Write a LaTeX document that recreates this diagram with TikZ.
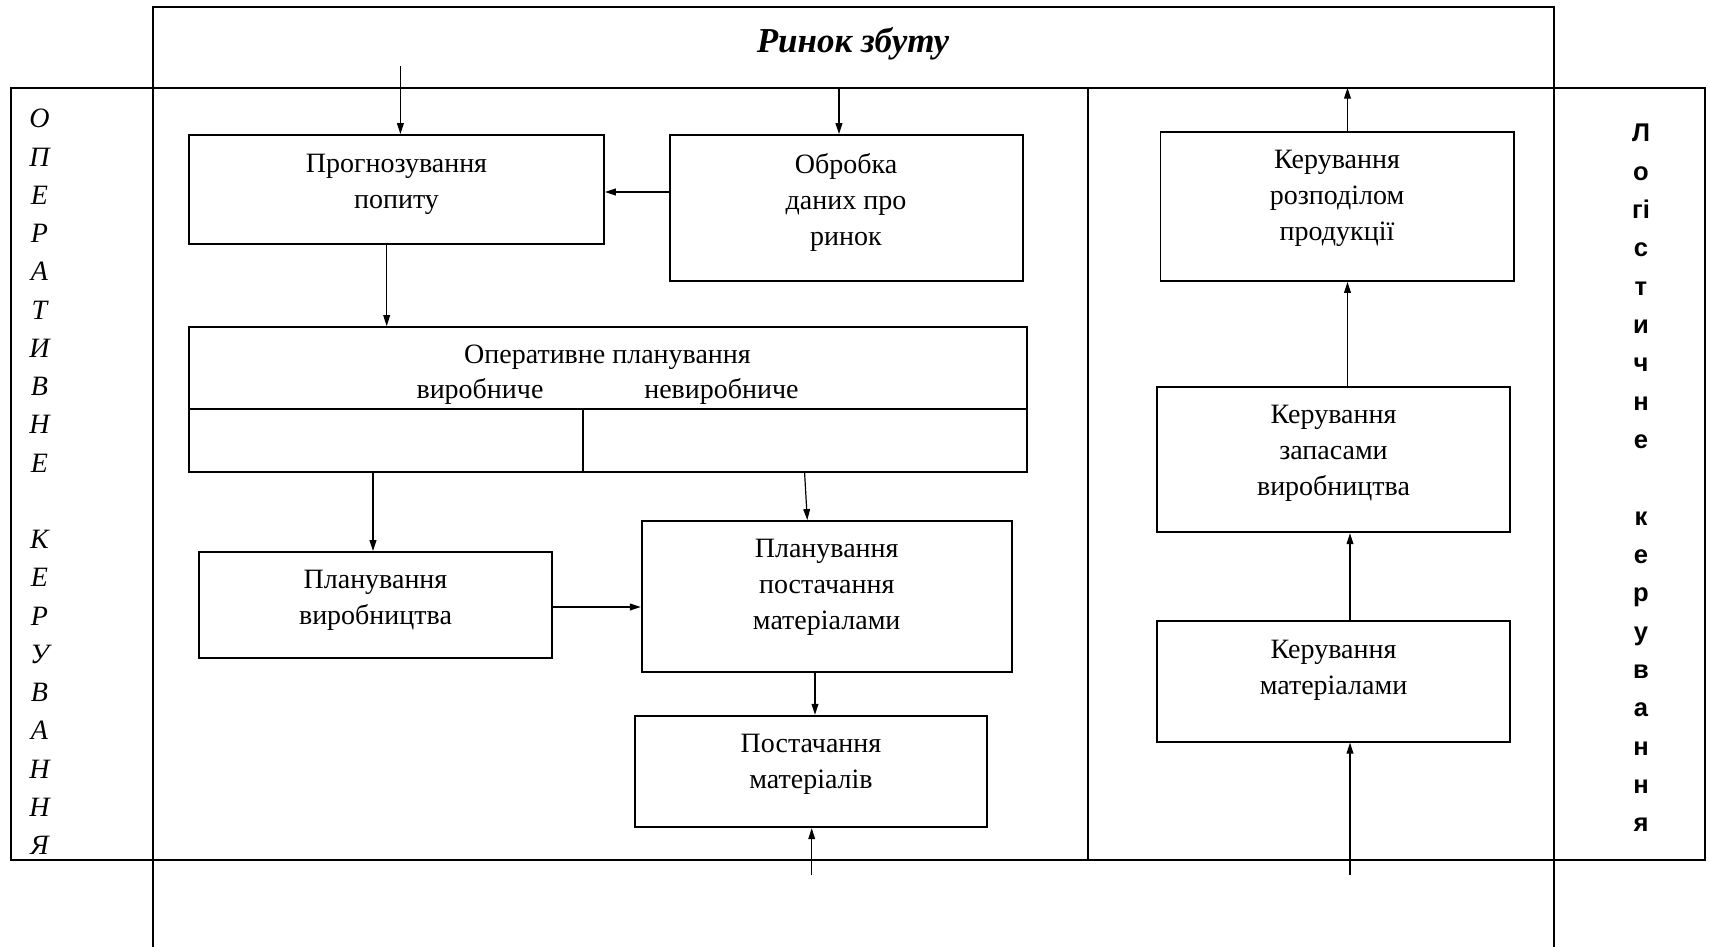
\documentclass[tikz,border=0pt]{standalone}
\usepackage{fontspec}
\setmainfont{Liberation Serif}
\newfontfamily\lsans{Liberation Sans}
\usetikzlibrary{arrows.meta,fit}
\begin{document}
\begin{tikzpicture}[x=0.5pt,y=-0.5pt,
  box/.style={draw, line width=0.9pt, inner sep=0pt},
  txt/.style={align=center, font=\fontsize{14}{18}\selectfont, inner sep=0pt},
  arr/.style={-{Triangle[length=5.5pt,width=3.4pt]}, line width=0.6pt},
  frame/.style={line width=1pt}]
\useasboundingbox (0,0) rectangle (1710,947);
% frame
\coordinate (F1) at (152.5,7.3);
\coordinate (F2) at (1553.7,7.3);
\coordinate (F3) at (152.5,947);
\coordinate (F4) at (1553.7,947);
\draw[frame] (F3) -- (F1) -- (F2) -- (F4);
\coordinate (B1) at (11,87.7);
\coordinate (B2) at (1705,860);
\draw[frame] (B1) rectangle (B2);
\coordinate (D1) at (1088,87.7);
\coordinate (D2) at (1088,860);
\draw[frame] (D1) -- (D2);
\node[font=\fontsize{17.5}{20}\selectfont\bfseries\itshape] (title) at (853,44) {Ринок збуту};
% side texts
\node[align=center, inner sep=0pt, font=\fontsize{14}{19.13}\selectfont\itshape] (lt) at (39.5,482) {О\\П\\Е\\Р\\А\\Т\\И\\В\\Н\\Е\\~\\К\\Е\\Р\\У\\В\\А\\Н\\Н\\Я};
\node[align=center, inner sep=0pt, font=\fontsize{12.8}{19.17}\selectfont\lsans\bfseries] (rt) at (1641,478) {Л\\о\\гі\\с\\т\\и\\ч\\н\\е\\~\\к\\е\\р\\у\\в\\а\\н\\н\\я};
% boxes
\node[box, fit={(189,135) (604,244)}] (p1) {};
\node[box, fit={(670,135) (1023,281)}] (p2) {};
\node[box, fit={(189,327) (1026.6,472)}] (p3) {};
\node[box, fit={(199,552) (552,658)}] (p4) {};
\node[box, fit={(641.7,521) (1011.8,672.3)}] (p5) {};
\node[box, fit={(635,715.7) (987,827.3)}] (p6) {};
\node[box, fit={(1160.4,131.7) (1513.6,281)}] (p7) {};
\node[box, fit={(1157,386.7) (1510,532.3)}] (p8) {};
\node[box, fit={(1157,621) (1510,741.7)}] (p9) {};
% inner lines of big box
\coordinate (y409) at (0,409);
\coordinate (x583) at (583,0);
\draw[line width=0.9pt] (p3.west |- y409) -- (p3.east |- y409);
\draw[line width=0.9pt] (x583 |- y409) -- (p3.south -| x583);
% texts
\node[txt] (t1) at (396.5,184) {Прогнозування\\попиту};
\node[txt] (t2) at (846,202) {Обробка\\даних про\\ринок};
\node[txt] (t3) at (607.5,357.5) {Оперативне планування};
\node[txt] (t3a) at (480,391.5) {виробниче};
\node[txt] (t3b) at (721.5,391.5) {невиробниче};
\node[txt] (t4) at (375.5,600.5) {Планування\\виробництва};
\node[txt] (t5) at (826.7,587.5) {Планування\\постачання\\матеріалами};
\node[txt] (t6) at (811,764.5) {Постачання\\матеріалів};
\node[txt] (t7) at (1337,198) {Керування\\розподілом\\продукції};
\node[txt] (t8) at (1333.5,453) {Керування\\запасами\\виробництва};
\node[txt] (t9) at (1333.5,670.5) {Керування\\матеріалами};
% arrows
\coordinate (s1) at (400.4,66);
\draw[arr] (s1) -- (s1 |- p1.north);
\coordinate (s2) at (839,87.7);
\draw[arr] (s2) -- (s2 |- p2.north);
\coordinate (y3) at (0,192);
\draw[arr] (p2.west |- y3) -- (p1.east |- y3);
\coordinate (x4) at (386.7,0);
\draw[arr] (p1.south -| x4) -- (p3.north -| x4);
\coordinate (x5) at (373,0);
\draw[arr] (p3.south -| x5) -- (p4.north -| x5);
\coordinate (x6a) at (804.6,0);
\coordinate (x6b) at (807.3,0);
\draw[arr] (p3.south -| x6a) -- (p5.north -| x6b);
\coordinate (y7) at (0,607);
\draw[arr] (p4.east |- y7) -- (p5.west |- y7);
\coordinate (x8) at (815,0);
\draw[arr] (p5.south -| x8) -- (p6.north -| x8);
\coordinate (s9) at (811.7,875);
\draw[arr] (s9) -- (s9 |- p6.south);
\coordinate (x10) at (1347.5,0);
\coordinate (e10) at (1347.5,87.7);
\draw[arr] (p7.north -| x10) -- (e10);
\draw[arr] (p8.north -| x10) -- (p7.south -| x10);
\coordinate (x12) at (1350,0);
\draw[arr] (p9.north -| x12) -- (p8.south -| x12);
\coordinate (s13) at (1350,875);
\draw[arr] (s13) -- (s13 |- p9.south);
\end{tikzpicture}
\end{document}
